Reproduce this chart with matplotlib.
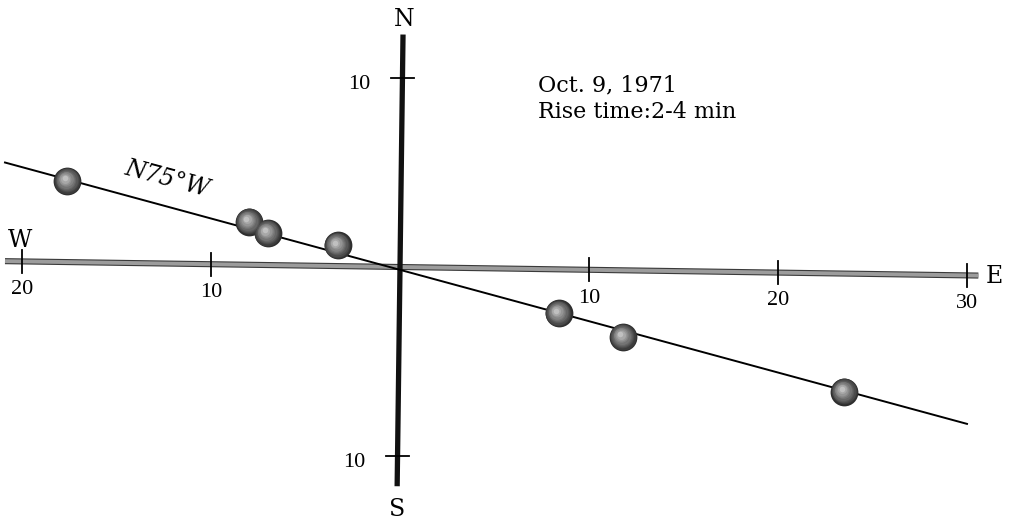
import numpy as np
import matplotlib.pyplot as plt

# event positions (E-W, N-S)
east = [-17.6, -8.0, -7.0, -3.3, 8.4, 11.8, 23.5]
north = [4.55, 2.4, 1.8, 1.15, -2.45, -3.7, -6.6]

x_ticks = [-20, -10, 10, 20, 30]
x_tick_labels = ['20', '10', '10', '20', '30']
y_ticks = [10, -10]
y_tick_labels = ['10', '10']

ew_extent = [-20.9, 30.6]
ns_extent = [-11.6, 12.3]
trend_extent = [-20.9, 30.0]
trend_angle = 15.2  # degrees below E-W (N75°W)

scale = 18.9  # px per unit
ox, oy = 400, 267
W, H = 1012, 522

fig = plt.figure(figsize=(W / 100, H / 100), dpi=100)
ax = fig.add_axes([0, 0, 1, 1])
ax.set_xlim(-ox / scale, (W - ox) / scale)
ax.set_ylim(-(H - oy) / scale, oy / scale)
ax.axis('off')

tilt = -0.0148   # scan tilt of the E-W axis
vtilt = 0.013    # scan tilt of the N-S axis

def ew_y(x):
    return tilt * np.asarray(x)

def ns_x(y):
    return vtilt * np.asarray(y)

serif = 'DejaVu Serif'
tickfont = 'Liberation Serif'

# E-W axis (gray bar)
xe = np.array(ew_extent)
ax.plot(xe, ew_y(xe), color='#3a3a3a', lw=4.4, solid_capstyle='butt', zorder=2)
ax.plot(xe, ew_y(xe), color='#9c9c9c', lw=2.8, solid_capstyle='butt', zorder=2)
for t, lab in zip(x_ticks, x_tick_labels):
    yt = ew_y(t)
    ax.plot([t, t], [yt - 0.6, yt + 0.6], color='black', lw=1.3, zorder=3)
    ax.text(t, yt - 1.0, lab, ha='center', va='top', fontsize=16, family=tickfont)

# N-S axis (black bar)
ye = np.array(ns_extent)
ax.plot(ns_x(ye), ye, color='#111111', lw=3.8, solid_capstyle='butt', zorder=3)
for t, lab in zip(y_ticks, y_tick_labels):
    xt = ns_x(t)
    ax.plot([xt - 0.6, xt + 0.6], [t, t], color='black', lw=1.3, zorder=3)
    ax.text(xt - 1.7, t - 0.35, lab, ha='right', va='center', fontsize=16,
            family=tickfont)

# trend line
xl = np.array(trend_extent)
ax.plot(xl, -np.tan(np.radians(trend_angle)) * xl - 0.15, color='black', lw=1.4, zorder=4)

# events as shaded spheres
shades = ['#2e2e2e', '#3c3c3c', '#4a4a4a', '#585858', '#666666', '#747474',
          '#848484', '#959595', '#a8a8a8', '#c0c0c0']
for i, c in enumerate(shades):
    s = 400 * (1 - i / len(shades)) ** 1.4
    ax.scatter(np.array(east) - 0.015 * i, np.array(north) + 0.015 * i, s=s,
               color=c, zorder=5, linewidths=0)

ax.text(0.2, 13.1, 'N', ha='center', va='center', fontsize=17, family=serif)
ax.text(-0.15, -12.85, 'S', ha='center', va='center', fontsize=17, family=serif)
ax.text(-20.1, 1.4, 'W', ha='center', va='center', fontsize=17, family=serif)
ax.text(31.45, -0.5, 'E', ha='center', va='center', fontsize=17, family=serif)
ax.text(-12.3, 4.65, 'N75°W', ha='center', va='center', fontsize=17, family=serif,
        style='italic', rotation=-15)
ax.text(7.3, 8.9, 'Oct. 9, 1971\nRise time:2-4 min', ha='left', va='center',
        fontsize=16, family=serif, linespacing=1.25)

fig.savefig('out.png', dpi=100, facecolor='white')
